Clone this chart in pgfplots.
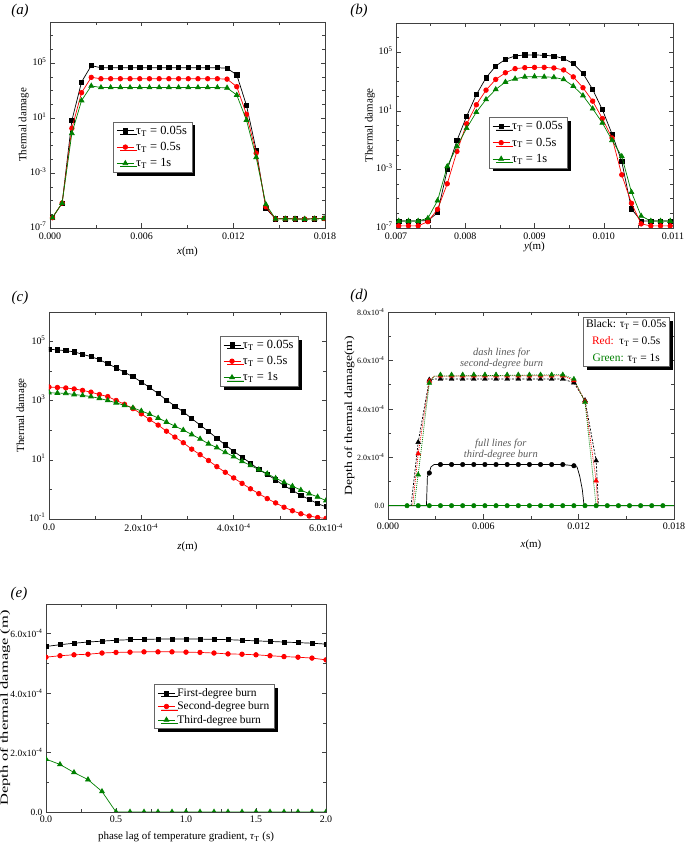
\documentclass[border=0pt]{standalone}
\usepackage{fontspec}
\setmainfont{Liberation Serif}
\usepackage{graphicx}
\usepackage{pgfplots}
\usepackage{pgfplotstable}
\pgfplotsset{compat=1.18}
\usetikzlibrary{shadows}
\definecolor{dgreen}{RGB}{0,128,0}

\pgfplotsset{
  panel/.style={
    scale only axis,
    axis line style={black!75, line width=0.6bp},
    every tick/.style={black!75, line width=0.5bp},
    major tick length=4.5bp, minor tick length=2.8bp,
    tick align=inside,
    tick label style={font=\fontsize{10}{11}\selectfont},
    label style={font=\fontsize{11}{12}\selectfont},
    scaled ticks=false,
    clip marker paths=true,
  },
  xl/.style={xlabel style={at={(axis description cs:0.5,#1)}, anchor=center}},
  yl/.style={ylabel style={at={(axis description cs:#1,0.5)}, anchor=center}},
  shadowleg/.style={
    legend style={draw=black!60, line width=0.5bp, fill=white,
      drop shadow={shadow xshift=3.5bp, shadow yshift=-3.5bp, fill=black, opacity=1},
      font=\fontsize{12.5}{14}\selectfont, row sep=2.5bp, inner xsep=3bp, inner ysep=2bp},
    legend cell align=left},
  sblk/.style={black, line width=0.7bp, mark=square*, mark size=2.1bp},
  sred/.style={red, line width=0.7bp, mark=*, mark size=2.3bp},
  sgrn/.style={dgreen, line width=0.7bp, mark=triangle*, mark size=2.8bp},
}

% (a) thermal damage along x
\pgfplotstableread{
x B R G
0.00016 5.6e-7 5.6e-7 5.6e-7
0.000795 6.6e-6 6.6e-6 6.6e-6
0.00143 6.6 1.8 0.78
0.002065 4.3e3 7.1e2 1.9e2
0.0027 6.6e4 9.3e3 2.2e3
0.003335 4.7e4 7.4e3 1.7e3
0.00397 4.7e4 7.4e3 1.7e3
0.004605 4.7e4 7.4e3 1.7e3
0.00524 4.7e4 7.4e3 1.7e3
0.005875 4.7e4 7.4e3 1.7e3
0.00651 4.7e4 7.4e3 1.7e3
0.007145 4.7e4 7.4e3 1.7e3
0.00778 4.7e4 7.4e3 1.7e3
0.008415 4.7e4 7.4e3 1.7e3
0.00905 4.7e4 7.4e3 1.7e3
0.009685 4.7e4 7.4e3 1.7e3
0.01032 4.7e4 7.4e3 1.7e3
0.010955 4.7e4 7.4e3 1.7e3
0.01159 4.3e4 6.9e3 1.6e3
0.012225 1.4e4 1.95e3 4.8e2
0.01286 85 19 7.2
0.013495 4.8e-2 2.8e-2 1.4e-2
0.01413 2.7e-6 3.5e-6 5.2e-6
0.014765 4.6e-7 4.6e-7 4.6e-7
0.0154 4.7e-7 4.7e-7 4.7e-7
0.016035 4.6e-7 4.6e-7 4.6e-7
0.01667 4.5e-7 4.5e-7 4.5e-7
0.017305 4.7e-7 4.7e-7 4.7e-7
0.01794 4.9e-7 4.9e-7 4.9e-7
}\tabA

% (b) thermal damage along y
\pgfplotstableread{
x B R G
0.00704 3.0e-7 1.4e-7 3.0e-7
0.00718 3.0e-7 1.4e-7 3.0e-7
0.00732 3.0e-7 1.4e-7 3.0e-7
0.00746 3.2e-7 2.7e-7 4.6e-7
0.0076 1.1e-6 1.9e-6 7.4e-6
0.00774 9.5e-4 1.05e-4 1.6e-3
0.00788 9.3e-2 1.7e-2 3.8e-2
0.00802 4.3 1.3 0.65
0.00816 126 26 8.1
0.0083 1.8e3 2.6e2 60
0.00844 1.15e4 1.4e3 2.9e2
0.00858 3.3e4 4.0e3 9.3e2
0.00872 5.6e4 7.6e3 1.55e3
0.00886 6.6e4 8.9e3 2.1e3
0.009 6.6e4 9.3e3 2.2e3
0.00914 6.2e4 9.3e3 2.1e3
0.00928 5.6e4 8.5e3 1.95e3
0.00942 3.7e4 6.2e3 1.4e3
0.00956 1.7e4 2.1e3 4.9e2
0.0097 3.6e3 3.8e2 1.1e2
0.00984 2.9e2 46 14
0.00998 12 3.0 1.5
0.01012 0.26 0.14 9.8e-2
0.01026 3.5e-3 4.3e-4 7.8e-3
0.0104 2.0e-6 4.9e-6 2.8e-5
0.01054 3.0e-7 1.9e-7 6.6e-7
0.01068 3.0e-7 1.4e-7 3.0e-7
0.01082 3.0e-7 1.4e-7 3.0e-7
0.01096 3.0e-7 1.4e-7 3.0e-7
}\tabB

% (c) thermal damage along z
\pgfplotstableread{
x B R G
0 5.5e4 2.9e3 1.86e3
1.82e-5 5.25e4 2.8e3 1.82e3
3.64e-5 4.9e4 2.7e3 1.78e3
5.45e-5 4.5e4 2.5e3 1.62e3
7.27e-5 3.7e4 2.24e3 1.51e3
9.09e-5 3.1e4 1.95e3 1.38e3
1.091e-4 2.45e4 1.62e3 1.2e3
1.273e-4 1.78e4 1.38e3 1.02e3
1.455e-4 1.29e4 1.02e3 8.5e2
1.636e-4 9.1e3 7.6e2 6.9e2
1.818e-4 6.5e3 5.4e2 5.75e2
2.0e-4 4.3e3 3.6e2 4.5e2
2.182e-4 2.8e3 2.3e2 3.5e2
2.364e-4 1.74e3 1.5e2 2.6e2
2.545e-4 1.05e3 93 1.9e2
2.727e-4 6.6e2 59 1.38e2
2.909e-4 4.2e2 38 1.02e2
3.091e-4 2.5e2 23 72
3.273e-4 1.5e2 15 51
3.455e-4 91 9.5 35
3.636e-4 54 5.9 26
3.818e-4 32 3.8 18
4.0e-4 19.5 2.45 12.9
4.182e-4 12.3 1.6 8.9
4.364e-4 7.8 1.05 6.5
4.545e-4 4.7 0.72 4.7
4.727e-4 3.2 0.49 3.4
4.909e-4 2.1 0.35 2.4
5.091e-4 1.35 0.25 1.74
5.273e-4 0.93 0.19 1.29
5.455e-4 0.63 0.15 0.95
5.636e-4 0.46 0.126 0.72
5.818e-4 0.33 0.112 0.56
6.0e-4 0.26 0.105 0.42
}\tabC

% (e) burn depth vs phase lag
\pgfplotstableread{
t F S T
0.0 5.57e-4 5.21e-4 1.78e-4
0.1 5.63e-4 5.26e-4 1.60e-4
0.2 5.68e-4 5.29e-4 1.33e-4
0.3 5.72e-4 5.31e-4 1.09e-4
0.4 5.75e-4 5.35e-4 0.69e-4
0.5 5.78e-4 5.37e-4 0
0.6 5.80e-4 5.38e-4 0
0.7 5.81e-4 5.39e-4 0
0.8 5.82e-4 5.39e-4 0
0.9 5.82e-4 5.39e-4 0
1.0 5.82e-4 5.38e-4 0
1.1 5.82e-4 5.37e-4 0
1.2 5.81e-4 5.35e-4 0
1.3 5.80e-4 5.32e-4 0
1.4 5.78e-4 5.31e-4 0
1.5 5.76e-4 5.29e-4 0
1.6 5.74e-4 5.26e-4 0
1.7 5.72e-4 5.23e-4 0
1.8 5.70e-4 5.21e-4 0
1.9 5.68e-4 5.18e-4 0
2.0 5.65e-4 5.12e-4 0
}\tabE

\begin{document}
\begin{tikzpicture}
\useasboundingbox (0,0) rectangle (685bp,845bp);

% ---------- (a)
\begin{axis}[panel, shadowleg, at={(50bp,617bp)}, anchor=south west,
  width=275bp, height=206bp, xl=-0.117, yl=-0.095,
  xmin=0, xmax=0.018, ymode=log, ymin=1e-7, ymax=1e8,
  xtick={0,0.006,0.012,0.018}, xticklabels={0.000,0.006,0.012,0.018},
  xticklabel style={yshift=-1bp}, yticklabel style={yshift=1.5bp},
  minor xtick={0.003,0.009,0.015},
  ytick={1e-7,1e-3,1e1,1e5},
  yticklabels={10\textsuperscript{-7},10\textsuperscript{-3},10\textsuperscript{1},10\textsuperscript{5}},
  minor ytick={1e-6,1e-5,1e-4,1e-2,1e-1,1,1e2,1e3,1e4,1e6,1e7},
  xlabel={\textit{x}(m)}, ylabel={Thermal damage},
  legend style={at={(0.23,0.516)}, anchor=north west}]
\addplot[sblk] table[x=x, y=B] {\tabA};
\addlegendentry{τ\textsubscript{T} = 0.05s}
\addplot[sred] table[x=x, y=R] {\tabA};
\addlegendentry{τ\textsubscript{T} = 0.5s}
\addplot[sgrn] table[x=x, y=G] {\tabA};
\addlegendentry{τ\textsubscript{T} = 1s}
\end{axis}

% ---------- (b)
\begin{axis}[panel, shadowleg, at={(396bp,617bp)}, anchor=south west,
  width=277bp, height=205bp, xl=-0.09, yl=-0.094,
  xmin=0.007, xmax=0.011, ymode=log, ymin=1e-7, ymax=1e7,
  xtick={0.007,0.008,0.009,0.010,0.011}, xticklabels={0.007,0.008,0.009,0.010,0.011},
  xticklabel style={yshift=-1bp}, yticklabel style={yshift=1.5bp},
  minor xtick={0.0075,0.0085,0.0095,0.0105},
  ytick={1e-7,1e-3,1e1,1e5},
  yticklabels={10\textsuperscript{-7},10\textsuperscript{-3},10\textsuperscript{1},10\textsuperscript{5}},
  minor ytick={1e-6,1e-5,1e-4,1e-2,1e-1,1,1e2,1e3,1e4,1e6},
  xlabel={\textit{y}(m)}, ylabel={Thermal damage},
  legend style={at={(0.336,0.54)}, anchor=north west}]
\addplot[sblk] table[x=x, y=B] {\tabB};
\addlegendentry{τ\textsubscript{T} = 0.05s}
\addplot[sred] table[x=x, y=R] {\tabB};
\addlegendentry{τ\textsubscript{T} = 0.5s}
\addplot[sgrn] table[x=x, y=G] {\tabB};
\addlegendentry{τ\textsubscript{T} = 1s}
\end{axis}

% ---------- (c)
\begin{axis}[panel, shadowleg, at={(49bp,326bp)}, anchor=south west,
  width=277bp, height=207bp, xl=-0.134, yl=-0.099,
  xmin=0, xmax=6e-4, ymode=log, ymin=1e-1, ymax=1e6,
  xtick={0,2e-4,4e-4,6e-4},
  xticklabels={0.0,2.0x10\textsuperscript{-4},4.0x10\textsuperscript{-4},6.0x10\textsuperscript{-4}},
  xticklabel style={yshift=-1bp}, yticklabel style={yshift=1.5bp},
  minor xtick={1e-4,3e-4,5e-4},
  ytick={1e-1,1e1,1e3,1e5},
  yticklabels={10\textsuperscript{-1},10\textsuperscript{1},10\textsuperscript{3},10\textsuperscript{5}},
  minor ytick={1,1e2,1e4},
  xlabel={\textit{z}(m)}, ylabel={Thermal damage},
  legend style={at={(0.617,0.885)}, anchor=north west}]
\addplot[sblk] table[x=x, y=B] {\tabC};
\addlegendentry{τ\textsubscript{T} = 0.05s}
\addplot[sred] table[x=x, y=R] {\tabC};
\addlegendentry{τ\textsubscript{T} = 0.5s}
\addplot[sgrn] table[x=x, y=G] {\tabC};
\addlegendentry{τ\textsubscript{T} = 1s}
\end{axis}

% ---------- (d)
\begin{axis}[panel, at={(388bp,326bp)}, anchor=south west,
  width=286bp, height=207bp, xl=-0.126, yl=-0.135,
  xmin=0, xmax=0.018, ymin=-0.55e-4, ymax=8e-4,
  xtick={0,0.006,0.012,0.018}, xticklabels={0.000,0.006,0.012,0.018},
  minor xtick={0.003,0.009,0.015},
  ytick={0,2e-4,4e-4,6e-4,8e-4},
  yticklabels={0.0,2.0x10\textsuperscript{-4},4.0x10\textsuperscript{-4},6.0x10\textsuperscript{-4},8.0x10\textsuperscript{-4}},
  yticklabel style={font=\fontsize{8}{9}\selectfont},
  minor ytick={1e-4,3e-4,5e-4,7e-4},
  xlabel={\textit{x}(m)}, ylabel={\scalebox{1.25}[1]{Depth of thermal damage(m)}}]
% third-degree burn, full lines
\addplot[black, line width=0.7bp] coordinates {
  (0,0) (0.00242,0) (0.00248,1.2e-4) (0.0026,1.35e-4) (0.0027,1.6e-4) (0.0029,1.7e-4)
  (0.0033,1.7e-4) (0.011,1.7e-4) (0.0117,1.65e-4) (0.0119,1.6e-4) (0.01207,1.21e-4)
  (0.01223,0.66e-4) (0.01234,0) (0.018,0)};
\addplot[black, only marks, mark=*, mark size=2.3bp] coordinates {
  (0.0026,1.35e-4) (0.0033,1.7e-4) (0.004,1.7e-4) (0.0047,1.7e-4) (0.0054,1.7e-4)
  (0.0061,1.7e-4) (0.0068,1.7e-4) (0.0075,1.7e-4) (0.0082,1.7e-4) (0.0089,1.7e-4)
  (0.0096,1.7e-4) (0.0103,1.7e-4) (0.011,1.7e-4) (0.0117,1.65e-4)};
\addplot[dgreen, line width=0.7bp] coordinates {(0,0) (0.018,0)};
% second-degree burn, dashed and dotted lines
\addplot[black, line width=0.7bp, dash pattern=on 2bp off 1.5bp] coordinates {
  (0.00145,0) (0.0019,2.62e-4) (0.0026,5.2e-4) (0.0029,5.23e-4) (0.011,5.23e-4)
  (0.0117,5.08e-4) (0.0124,4.35e-4) (0.0131,1.86e-4) (0.01325,0)};
\addplot[red, line width=0.7bp, dash pattern=on 1bp off 1bp] coordinates {
  (0.00155,0) (0.0019,2.15e-4) (0.0026,5.15e-4) (0.0029,5.35e-4) (0.011,5.37e-4)
  (0.0117,5.17e-4) (0.0124,4.31e-4) (0.0131,1.03e-4) (0.0132,0)};
\addplot[dgreen, line width=0.7bp, dash pattern=on 1bp off 1bp] coordinates {
  (0.00165,0) (0.0019,1.28e-4) (0.0026,5.07e-4) (0.0029,5.35e-4) (0.011,5.41e-4)
  (0.0117,5.23e-4) (0.0124,4.27e-4) (0.0131,0)};
\addplot[black, only marks, mark=triangle*, mark size=2.8bp] coordinates {
  (0.0019,2.62e-4) (0.0026,5.2e-4) (0.0033,5.23e-4) (0.004,5.23e-4) (0.0047,5.23e-4)
  (0.0054,5.23e-4) (0.0061,5.23e-4) (0.0068,5.23e-4) (0.0075,5.23e-4) (0.0082,5.23e-4)
  (0.0089,5.23e-4) (0.0096,5.23e-4) (0.0103,5.23e-4) (0.011,5.23e-4) (0.0117,5.08e-4)
  (0.0124,4.35e-4) (0.0131,1.86e-4)};
\addplot[red, only marks, mark=triangle*, mark size=2.8bp] coordinates {
  (0.0019,2.15e-4) (0.0026,5.15e-4) (0.0033,5.37e-4) (0.004,5.37e-4) (0.0047,5.37e-4)
  (0.0054,5.37e-4) (0.0061,5.37e-4) (0.0068,5.37e-4) (0.0075,5.37e-4) (0.0082,5.37e-4)
  (0.0089,5.37e-4) (0.0096,5.37e-4) (0.0103,5.37e-4) (0.011,5.37e-4) (0.0117,5.17e-4)
  (0.0124,4.31e-4) (0.0131,1.03e-4)};
\addplot[dgreen, only marks, mark=triangle*, mark size=2.8bp] coordinates {
  (0.0019,1.28e-4) (0.0026,5.07e-4) (0.0033,5.41e-4) (0.004,5.41e-4) (0.0047,5.41e-4)
  (0.0054,5.41e-4) (0.0061,5.41e-4) (0.0068,5.41e-4) (0.0075,5.41e-4) (0.0082,5.41e-4)
  (0.0089,5.41e-4) (0.0096,5.41e-4) (0.0103,5.41e-4) (0.011,5.41e-4) (0.0117,5.23e-4)
  (0.0124,4.27e-4)};
\addplot[dgreen, only marks, mark=*, mark size=2.3bp] coordinates {
  (0.0012,0) (0.0019,0) (0.0026,0) (0.0033,0) (0.004,0) (0.0047,0) (0.0054,0) (0.0061,0)
  (0.0068,0) (0.0075,0) (0.0082,0) (0.0089,0) (0.0096,0) (0.0103,0) (0.011,0) (0.0117,0)
  (0.0124,0) (0.0131,0) (0.0138,0) (0.0145,0) (0.0152,0) (0.0159,0) (0.0166,0) (0.0173,0)};
\node[font=\fontsize{10.5}{11}\selectfont\itshape, text=black!65, align=center]
  at (axis cs:0.00715,6.08e-4) {dash lines for\\second-degree burn};
\node[font=\fontsize{10.5}{11}\selectfont\itshape, text=black!65, align=center]
  at (axis cs:0.0071,2.31e-4) {full lines for\\third-degree burn};
\node[draw=black!60, line width=0.5bp, fill=white, anchor=north west, align=center,
  inner sep=3bp, font=\fontsize{11.5}{17}\selectfont,
  drop shadow={shadow xshift=3.5bp, shadow yshift=-3.5bp, fill=black, opacity=1}]
  at (axis description cs:0.681,0.977)
  {Black: τ\textsubscript{T} = 0.05s\\\textcolor{red}{Red:}\ \ τ\textsubscript{T} = 0.5s\\
   \textcolor{dgreen}{Green:} τ\textsubscript{T} = 1s};
\end{axis}

% ---------- (e)
\begin{axis}[panel, shadowleg, at={(46bp,33bp)}, anchor=south west,
  width=280bp, height=208bp, xl=-0.119, yl=-0.146,
  xmin=0, xmax=2, ymin=0, ymax=7e-4,
  xtick={0,0.5,1,1.5,2}, xticklabels={0.0,0.5,1.0,1.5,2.0},
  minor xtick={0.25,0.75,1.25,1.75},
  ytick={0,2e-4,4e-4,6e-4},
  yticklabels={0.0,2.0x10\textsuperscript{-4},4.0x10\textsuperscript{-4},6.0x10\textsuperscript{-4}},
  yticklabel style={font=\fontsize{9.5}{10}\selectfont},
  minor ytick={1e-4,3e-4,5e-4},
  xlabel={phase lag of temperature gradient, \textit{τ}\textsubscript{T} (s)},
  ylabel={\scalebox{1.5}[1]{Depth of thermal damage (m)}},
  legend style={at={(0.387,0.615)}, anchor=north west,
    font=\fontsize{11.5}{12.5}\selectfont, row sep=0pt}]
\addplot[sblk] table[x=t, y=F] {\tabE};
\addlegendentry{First-degree burn}
\addplot[sred] table[x=t, y=S] {\tabE};
\addlegendentry{Second-degree burn}
\addplot[sgrn] table[x=t, y=T] {\tabE};
\addlegendentry{Third-degree burn}
\end{axis}

% panel letters
\node[font=\fontsize{15}{17}\selectfont\itshape] at (20bp,834bp) {(a)};
\node[font=\fontsize{15}{17}\selectfont\itshape] at (359bp,834bp) {(b)};
\node[font=\fontsize{15}{17}\selectfont\itshape] at (20bp,547bp) {(c)};
\node[font=\fontsize{15}{17}\selectfont\itshape] at (359bp,549bp) {(d)};
\node[font=\fontsize{15}{17}\selectfont\itshape] at (19bp,251bp) {(e)};
\end{tikzpicture}
\end{document}
